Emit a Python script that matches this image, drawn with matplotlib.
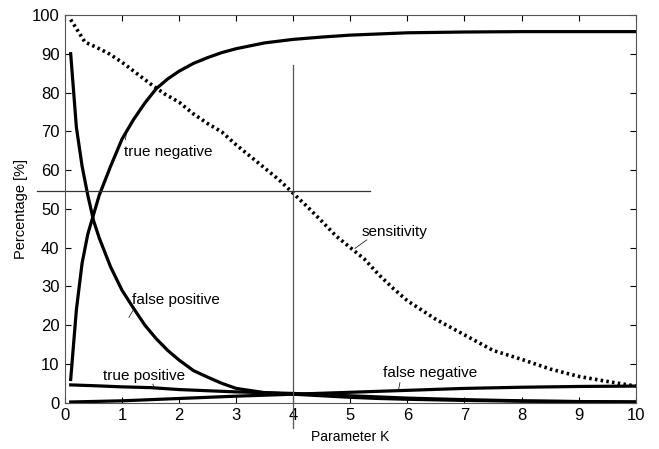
import matplotlib
matplotlib.use("Agg")
import matplotlib.pyplot as plt

plt.rcParams['font.family'] = ['Liberation Sans', 'DejaVu Sans']

# sensitivity (dotted)
k_sens = [0.1, 0.2, 0.35, 0.5, 0.75, 1.0, 1.25, 1.5, 1.75, 2.0, 2.25, 2.5, 2.75, 3.0,
          3.25, 3.5, 3.75, 4.0, 4.25, 4.5, 4.75, 5.0, 5.25, 5.5, 5.75, 6.0, 6.5, 7.0,
          7.5, 8.0, 8.5, 9.0, 9.5, 10.0]
sensitivity = [98.8, 96.5, 93.0, 92.0, 90.2, 87.8, 85.0, 82.2, 79.6, 77.5, 74.5, 72.0,
               69.8, 66.5, 63.5, 60.5, 57.5, 54.0, 50.5, 46.8, 43.0, 40.0, 37.0, 33.0,
               29.5, 26.3, 21.5, 17.5, 13.5, 11.2, 8.7, 6.8, 5.5, 4.3]

# true negative
k_tn = [0.1, 0.2, 0.3, 0.4, 0.5, 0.6, 0.8, 1.0, 1.2, 1.4, 1.6, 1.8, 2.0, 2.25, 2.5,
        2.75, 3.0, 3.5, 4.0, 4.5, 5.0, 5.5, 6.0, 7.0, 8.0, 9.0, 10.0]
true_negative = [6.0, 24.0, 36.0, 43.5, 48.5, 53.5, 61.0, 68.0, 73.0, 77.3, 81.0, 83.5,
                 85.5, 87.5, 89.0, 90.3, 91.3, 92.8, 93.7, 94.3, 94.8, 95.1, 95.4, 95.6,
                 95.7, 95.7, 95.7]

# false positive
k_fp = [0.1, 0.2, 0.3, 0.4, 0.5, 0.6, 0.8, 1.0, 1.2, 1.4, 1.6, 1.8, 2.0, 2.25, 2.5,
        2.75, 3.0, 3.5, 4.0, 4.5, 5.0, 5.5, 6.0, 7.0, 8.0, 9.0, 10.0]
false_positive = [90.0, 71.0, 61.0, 53.5, 47.0, 42.5, 35.0, 29.0, 24.4, 20.0, 16.5, 13.5,
                  11.0, 8.3, 6.6, 5.0, 3.7, 2.6, 2.2, 1.8, 1.4, 1.1, 0.9, 0.6, 0.4, 0.3, 0.2]

# true positive
k_tp = [0.1, 0.5, 1.0, 1.5, 2.0, 2.5, 3.0, 3.5, 4.0, 4.5, 5.0, 5.5, 6.0, 6.5, 7.0,
        8.0, 9.0, 10.0]
true_positive = [4.6, 4.4, 4.1, 3.9, 3.4, 3.1, 2.8, 2.6, 2.4, 2.1, 1.8, 1.5, 1.2, 1.0,
                 0.8, 0.5, 0.31, 0.2]

# false negative
k_fn = [0.1, 1.0, 2.0, 3.0, 4.0, 5.0, 6.0, 7.0, 8.0, 9.0, 10.0]
false_negative = [0.2, 0.5, 1.1, 1.7, 2.2, 2.7, 3.2, 3.7, 4.0, 4.2, 4.3]

k_marked = 4.0
pct_marked = 54.5

fig = plt.figure(figsize=(6.59, 4.49), dpi=100)
ax = fig.add_axes([0.0986, 0.103, 0.866, 0.8637])

lw = 2.3
ax.plot(k_sens, sensitivity, color='black', lw=2.6, linestyle=(0, (0.7, 0.9)))
ax.plot(k_tn, true_negative, color='black', lw=lw)
ax.plot(k_fp, false_positive, color='black', lw=lw)
ax.plot(k_tp, true_positive, color='black', lw=lw)
ax.plot(k_fn, false_negative, color='black', lw=lw)

# marker lines
ax.plot([k_marked, k_marked], [87.2, -6.5], color='#555555', lw=0.9, clip_on=False)
ax.plot([-0.49, 5.34], [pct_marked, pct_marked], color='#333333', lw=0.9, clip_on=False)

# labels with leader lines
fs = 11
ax.text(1.03, 64.7, 'true negative', fontsize=fs, va='center')
ax.plot([1.06, 1.08], [67.8, 70.2], color='black', lw=0.5)
ax.text(1.18, 26.5, 'false positive', fontsize=fs, va='center')
ax.plot([1.2, 1.12], [24.0, 22.0], color='black', lw=0.5)
ax.text(0.66, 6.8, 'true positive', fontsize=fs, va='center')
ax.plot([1.54, 1.56], [4.8, 3.9], color='black', lw=0.5)
ax.text(5.57, 7.6, 'false negative', fontsize=fs, va='center')
ax.plot([5.87, 5.84], [5.2, 3.0], color='black', lw=0.5)
ax.text(5.2, 44.1, 'sensitivity', fontsize=fs, va='center')
ax.plot([5.29, 5.08], [42.0, 39.8], color='black', lw=0.5)

ax.set_xlim(0, 10)
ax.set_ylim(0, 100)
ax.set_xticks(range(0, 11))
ax.set_yticks(range(0, 101, 10))
ax.tick_params(direction='in', top=True, right=True, length=4, width=0.8,
               labelsize=12, pad=4, colors='black')
for s in ax.spines.values():
    s.set_linewidth(0.8)
    s.set_color('#555555')
ax.set_xlabel('Parameter K', fontsize=10, labelpad=5)
ax.set_ylabel('Percentage [%]', fontsize=10.5, labelpad=3)

fig.savefig('out.png', dpi=100)
